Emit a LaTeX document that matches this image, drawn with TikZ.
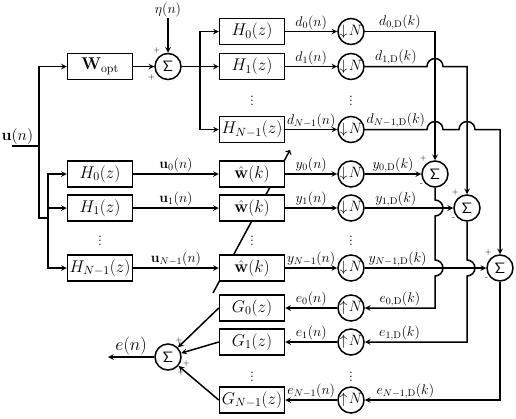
\RequirePackage{fix-cm}
\documentclass[tikz,border=0pt]{standalone}
\usepackage{amsmath}
\usepackage{amssymb}
\usepackage{tikz}
\usetikzlibrary{positioning,calc}

\begin{document}
\begin{tikzpicture}[x=1pt,y=1pt,line width=1.5pt,on grid]
		\tikzstyle{block}=[draw=black,fill=white,minimum width=65pt,minimum height=26pt,inner sep=1.5pt,font=\fontsize{17}{20}\selectfont]
		\tikzstyle{circ}=[draw=black,fill=white,circle,minimum size=26pt,inner sep=0pt,font=\fontsize{15}{17}\selectfont]
		\tikzstyle{lbl}=[inner sep=1pt,font=\fontsize{14}{16}\selectfont]
		\tikzstyle{sgn}=[inner sep=0.5pt,font=\fontsize{8}{8}\selectfont]
		\useasboundingbox (0,0) rectangle (516,-418);
		% adaptation arrow, behind the filter blocks
		\coordinate (adS) at (213,-293);
		\coordinate (adE) at (290,-150);
		\draw[-to] (adS) -- (adE);
		% unknown system and desired signals
		\node[block] (wopt) at (100,-66.5) {$\mathbf{W}_{\mathrm{opt}}$};
		\node[circ, right=68pt of wopt, label={[sgn]120:$+$}, label={[sgn]210:$+$}] (sum0) {$\mathsf{\Sigma}$};
		\node[lbl, above=57pt of sum0] (eta) {$\eta(n)$};
		\coordinate[right=32pt of sum0] (jt);
		\node[block, above right=35pt and 84pt of sum0] (Hd0) {$H_0(z)$};
		\node[block, right=84pt of sum0] (Hd1) {$H_1(z)$};
		\node[block, below=63pt of Hd1] (HdN) {$H_{N-1}(z)$};
		\node[lbl, below=31pt of Hd1] (vdA) {$\vdots$};
		\node[circ, right=99pt of Hd0] (dn0) {$\downarrow\!N$};
		\node[circ, right=99pt of Hd1] (dn1) {$\downarrow\!N$};
		\node[circ, right=99pt of HdN] (dnN) {$\downarrow\!N$};
		\node[lbl, right=99pt of vdA] (vdB) {$\vdots$};
		% analysis bank and adaptive filters
		\node[block, below=107.5pt of wopt] (Hu0) {$H_0(z)$};
		\node[block, below=34pt of Hu0] (Hu1) {$H_1(z)$};
		\node[block, below=60pt of Hu1] (HuN) {$H_{N-1}(z)$};
		\node[lbl, below=30pt of Hu1] (vdC) {$\vdots$};
		\node[block, right=152pt of Hu0] (w0) {$\hat{\mathbf{w}}(k)$};
		\node[block, right=152pt of Hu1] (w1) {$\hat{\mathbf{w}}(k)$};
		\node[block, right=152pt of HuN] (wN) {$\hat{\mathbf{w}}(k)$};
		\node[lbl, right=152pt of vdC] (vdD) {$\vdots$};
		\node[circ, right=99pt of w0] (yd0) {$\downarrow\!N$};
		\node[circ, right=99pt of w1] (yd1) {$\downarrow\!N$};
		\node[circ, right=99pt of wN] (ydN) {$\downarrow\!N$};
		\node[lbl, right=99pt of vdD] (vdE) {$\vdots$};
		\node[circ, right=84pt of yd0, label={[sgn]122:$+$}, label={[sgn]218:-}] (es0) {$\mathsf{\Sigma}$};
		\node[circ, right=116pt of yd1, label={[sgn]122:$+$}, label={[sgn]218:-}] (es1) {$\mathsf{\Sigma}$};
		\node[circ, right=149pt of ydN, label={[sgn]122:$+$}, label={[sgn]218:-}] (esN) {$\mathsf{\Sigma}$};
		% synthesis bank
		\node[block, below=40pt of wN] (G0) {$G_0(z)$};
		\node[block, below=34pt of G0] (G1) {$G_1(z)$};
		\node[block, below=58pt of G1] (GN) {$G_{N-1}(z)$};
		\node[lbl, below=32pt of G1] (vdF) {$\vdots$};
		\node[circ, right=99pt of G0] (up0) {$\uparrow\!N$};
		\node[circ, right=99pt of G1] (up1) {$\uparrow\!N$};
		\node[circ, right=99pt of GN] (upN) {$\uparrow\!N$};
		\node[lbl, right=99pt of vdF] (vdG) {$\vdots$};
		\node[circ, below left=15pt and 84pt of G1, label={[sgn]62:$+$}, label={[sgn]-8:$+$}, label={[sgn]-55:$+$}] (esum) {$\mathsf{\Sigma}$};
		\coordinate[left=60pt of esum] (eout);
		% input
		\coordinate (uin) at (12,-146);
		\coordinate[right=27pt of uin] (br1);
		\coordinate (br2) at (48,-218);
		\draw (uin) -- node[lbl,above,pos=0.2,font=\fontsize{16}{18}\selectfont]{$\mathbf{u}(n)$} (br1);
		\draw[-stealth] (br1) |- (wopt);
		\draw (br1) |- (br2);
		\draw[-stealth] (br2) |- (Hu0);
		\draw[-stealth] (br2) |- (Hu1);
		\draw[-stealth] (br2) |- (HuN);
		% desired path
		\draw[-stealth] (eta) -- (sum0);
		\draw[-stealth] (wopt) -- (sum0);
		\draw (sum0) -- (jt);
		\draw[-stealth] (jt) |- (Hd0);
		\draw[-stealth] (jt) -- (Hd1);
		\draw[-stealth] (jt) |- (HdN);
		\draw[-stealth] (Hd0) -- node[lbl,above]{$d_0(n)$} (dn0);
		\draw[-stealth] (Hd1) -- node[lbl,above]{$d_1(n)$} (dn1);
		\draw[-stealth] (HdN) -- node[lbl,above]{$d_{N-1}(n)$} (dnN);
		\draw[-stealth] (dn0) -| node[lbl,above,pos=0.25]{$d_{0,\mathrm{D}}(k)$} (es0);
		\draw[-stealth] (dn1) -- node[lbl,above]{$d_{1,\mathrm{D}}(k)$} ($(dn1-|es0)-(8,0)$) arc (180:0:8) -| (es1);
		\draw[-stealth] (dnN) -- node[lbl,above]{$d_{N-1,\mathrm{D}}(k)$} ($(dnN-|es0)-(8,0)$) arc (180:0:8)
			-- ($(dnN-|es1)-(8,0)$) arc (180:0:8) -| (esN);
		% adaptive path
		\draw[-stealth] (Hu0) -- node[lbl,above]{$\mathbf{u}_0(n)$} (w0);
		\draw[-stealth] (Hu1) -- node[lbl,above]{$\mathbf{u}_1(n)$} (w1);
		\draw[-stealth] (HuN) -- node[lbl,above]{$\mathbf{u}_{N-1}(n)$} (wN);
		\draw[-stealth] (w0) -- node[lbl,above]{$y_0(n)$} (yd0);
		\draw[-stealth] (w1) -- node[lbl,above]{$y_1(n)$} (yd1);
		\draw[-stealth] (wN) -- node[lbl,above]{$y_{N-1}(n)$} (ydN);
		\draw[-stealth] (yd0) -- node[lbl,above]{$y_{0,\mathrm{D}}(k)$} (es0);
		\draw[-stealth] (yd1) -- node[lbl,above,pos=0.35]{$y_{1,\mathrm{D}}(k)$} (es1);
		\draw[-stealth] (ydN) -- node[lbl,above,pos=0.27]{$y_{N-1,\mathrm{D}}(k)$} (esN);
		% errors back through the synthesis bank
		\draw[-stealth] (es0) -- ($(es0|-yd1)+(0,8)$) arc (90:-90:8) -- ($(es0|-ydN)+(0,8)$) arc (90:-90:8)
			|- node[lbl,above,pos=0.75]{$e_{0,\mathrm{D}}(k)$} (up0);
		\draw[-stealth] (es1) -- ($(es1|-ydN)+(0,8)$) arc (90:-90:8)
			|- node[lbl,above,pos=0.83]{$e_{1,\mathrm{D}}(k)$} (up1);
		\draw[-stealth] (esN) |- node[lbl,above,pos=0.85]{$e_{N-1,\mathrm{D}}(k)$} (upN);
		\draw[-stealth] (up0) -- node[lbl,above]{$e_0(n)$} (G0);
		\draw[-stealth] (up1) -- node[lbl,above]{$e_1(n)$} (G1);
		\draw[-stealth] (upN) -- node[lbl,above]{$e_{N-1}(n)$} (GN);
		\draw[-stealth] (G0.west) -- (esum);
		\draw[-stealth] (G1.west) -- (esum);
		\draw[-stealth] (GN.west) -- (esum);
		\draw[-stealth] (esum) -- node[lbl,above,font=\fontsize{18}{20}\selectfont]{$e(n)$} (eout);
	\end{tikzpicture}
\end{document}
